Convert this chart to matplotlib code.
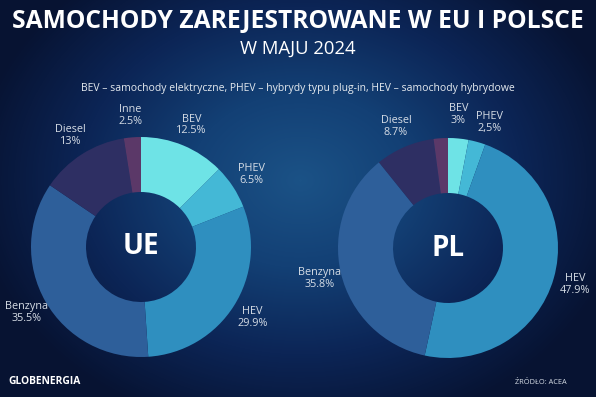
import matplotlib

matplotlib.use('Agg')
import matplotlib.pyplot as plt
import numpy as np
from matplotlib.colors import LinearSegmentedColormap

# Dane (ACEA, maj 2024)
categories = ["BEV", "PHEV", "HEV", "Benzyna", "Diesel", "Inne"]
ue_values = [12.5, 6.5, 29.9, 35.5, 13.0, 2.5]
pl_values = [3.0, 2.5, 47.9, 35.8, 8.7, 2.1]
ue_labels = ["BEV\n12.5%", "PHEV\n6.5%", "HEV\n29.9%", "Benzyna\n35.5%", "Diesel\n13%", "Inne\n2.5%"]
pl_labels = ["BEV\n3%", "PHEV\n2,5%", "HEV\n47.9%", "Benzyna\n35.8%", "Diesel\n8.7%", ""]
colors = ["#6ee3e6", "#44b8d6", "#2f8fbf", "#2e5f9a", "#2e2f63", "#5b3868"]

W, H = 596, 397
fig = plt.figure(figsize=(W / 100, H / 100), dpi=100)
ax = fig.add_axes([0, 0, 1, 1])

# tlo - radialny gradient
yy, xx = np.mgrid[0:H, 0:W]
d = np.sqrt(((xx - 300) / 330.0) ** 2 + ((yy - 180) / 260.0) ** 2)
d = np.clip(d, 0, 1)
bg_cmap = LinearSegmentedColormap.from_list("bg", ["#1b5286", "#134075", "#0c2556", "#071332"])
ax.imshow(d, cmap=bg_cmap, extent=(0, W, 0, H), origin='upper', aspect='auto', zorder=0)


def donut(values, labels, cx, cy, name):
    wedges, texts = ax.pie(values, labels=labels, colors=colors, startangle=90, counterclock=False,
                           radius=110, center=(cx, cy), labeldistance=1.2,
                           wedgeprops=dict(width=55, linewidth=0),
                           textprops=dict(color="#d6dde6", fontsize=7.8, family="Open Sans"))
    for w in wedges:
        w.set_zorder(2)
    for t in texts:
        t.set_ha('center')
        t.set_va('center')
        t.set_linespacing(1.1)
    ax.text(cx, cy, name, color="white", fontsize=20, fontweight="bold", family="Open Sans",
            ha="center", va="center")
    return texts


donut(ue_values, ue_labels, 141, H - 247, "UE")
pl_texts = donut(pl_values, pl_labels, 448, H - 248, "PL")
# male segmenty - rozsuniecie etykiet
bx, by = pl_texts[0].get_position()
pl_texts[0].set_position((bx - 2, by + 2))
px, py = pl_texts[1].get_position()
pl_texts[1].set_position((px + 7, py - 2))

ax.set_xlim(0, W)
ax.set_ylim(0, H)
ax.set_aspect('auto')
ax.axis('off')

fig.text(0.5, 1 - 21 / H, "SAMOCHODY ZAREJESTROWANE W EU I POLSCE", color="white", fontsize=17.7,
         fontweight="bold", family="Open Sans", ha="center", va="center")
fig.text(0.5, 1 - 49 / H, "W MAJU 2024", color="white", fontsize=13.3, family="Open Sans",
         ha="center", va="center")
fig.text(0.5, 1 - 89 / H, "BEV – samochody elektryczne, PHEV – hybrydy typu plug-in, HEV – samochody hybrydowe",
         color="#e6ebf0", fontsize=7.5, family="Open Sans", ha="center", va="center")
fig.text(8 / W, 1 - 381 / H, "GLOBENERGIA", color="white", fontsize=7.4, fontweight="bold",
         family="Open Sans", ha="left", va="center")
fig.text(567 / W, 1 - 382 / H, "ŹRÓDŁO: ACEA", color="#d6dde6", fontsize=5.3, family="Open Sans",
         ha="right", va="center")

fig.savefig("out.png", dpi=100)
